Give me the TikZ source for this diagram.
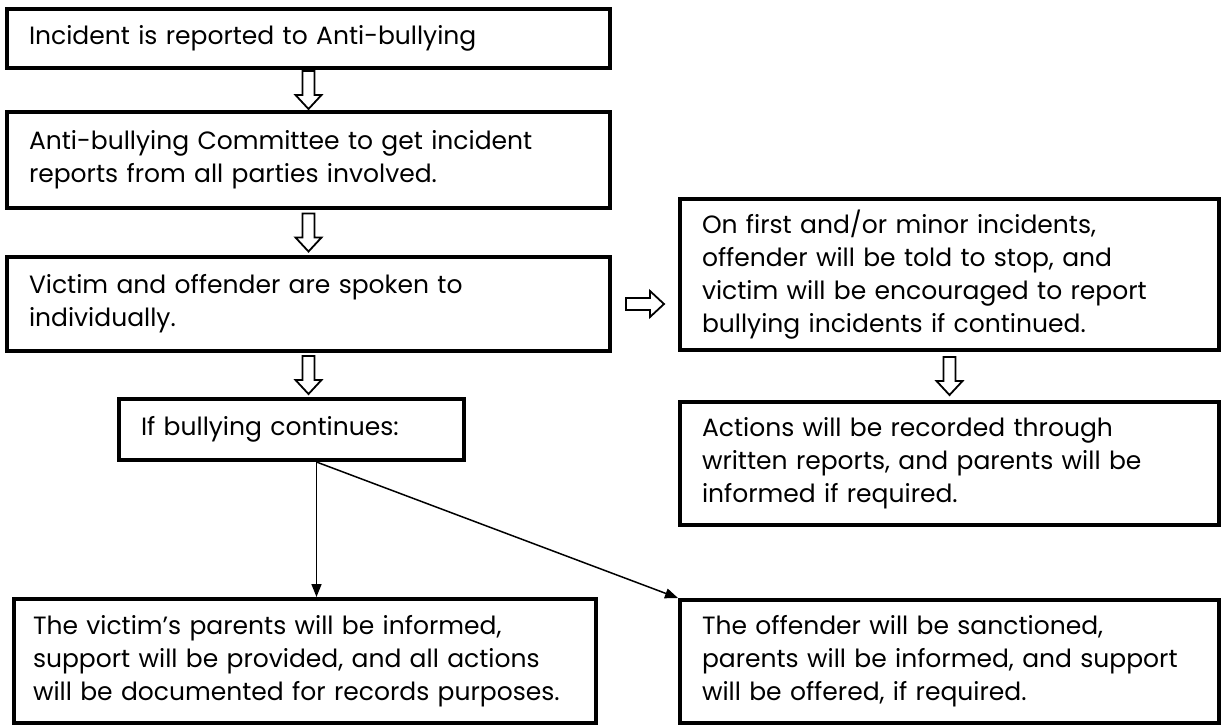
\documentclass[tikz,border=0pt]{standalone}
\usepackage{fontspec}
\setmainfont{Poppins}
\usepackage{tikz}
\usetikzlibrary{arrows.meta, calc}

\tikzset{
  stepbox/.style={draw, line width=4pt, inner xsep=22pt, inner ysep=0pt,
                  align=left, font=\fontsize{25}{33}\selectfont},
  link/.style={line width=1.5pt, -{Triangle[length=13pt, width=10pt]}},
  hollow/.style={draw, line width=1.8pt, fill=white, line join=miter},
  blockarrow/.pic={
    \path[hollow] (-6,-19) -- (-6,5) -- (-13,5) -- (0,19) -- (13,5) -- (6,5) -- (6,-19) -- cycle;
  }
}

\begin{document}
\begin{tikzpicture}[x=1pt, y=-1pt]
    \useasboundingbox (0,0) rectangle (1225,726);

    % Left column
    \node[stepbox, minimum width=603pt, text width=559pt, minimum height=59pt] (report) at (308.5,38.5)
        {Incident is reported to Anti-bullying};
    \node[stepbox, minimum width=603pt, text width=559pt, minimum height=96pt] (committee) at (308.5,160)
        {Anti-bullying Committee to get incident\\reports from all parties involved.};
    \node[stepbox, minimum width=603pt, text width=559pt, minimum height=94pt] (spoken) at (308.5,304)
        {Victim and offender are spoken to\\individually.};
    \node[stepbox, minimum width=345pt, text width=301pt, minimum height=61pt] (continues) at (291.5,429.5)
        {If bullying continues:};

    % Right column
    \node[stepbox, minimum width=539pt, text width=495pt, minimum height=151pt] (minor) at (949.5,274.5)
        {On first and/or minor incidents,\\offender will be told to stop, and\\victim will be encouraged to report\\bullying incidents if continued.};
    \node[stepbox, minimum width=539pt, text width=495pt, minimum height=123pt] (recorded) at (949.5,463.5)
        {Actions will be recorded through\\written reports, and parents will be\\informed if required.};

    % Outcomes
    \node[stepbox, minimum width=582pt, inner xsep=19pt, text width=544pt, minimum height=124pt] (victim) at (305,661)
        {The victim’s parents will be informed,\\support will be provided, and all actions\\will be documented for records purposes.};
    \node[stepbox, minimum width=539pt, text width=495pt, minimum height=123pt] (offender) at (949.5,661.5)
        {The offender will be sanctioned,\\parents will be informed, and support\\will be offered, if required.};

    % Block arrows
    \pic at ($(report.south)!0.5!(committee.north)$) {blockarrow};
    \pic at ($(committee.south)!0.5!(spoken.north)$) {blockarrow};
    \pic at ($(spoken.south)!0.5!(spoken.south |- continues.north)$) {blockarrow};
    \pic at ($(minor.south)!0.5!(recorded.north)$) {blockarrow};
    \pic[rotate=90] at ($(spoken.east)!0.5!(spoken.east -| minor.west)$) {blockarrow};

    % Split after bullying continues
    \coordinate (split) at ($(continues.south)+(25,0)$);
    \draw[link] (split) -- (split |- victim.north);
    \draw[link] (split) -- (offender.north west);
\end{tikzpicture}
\end{document}
